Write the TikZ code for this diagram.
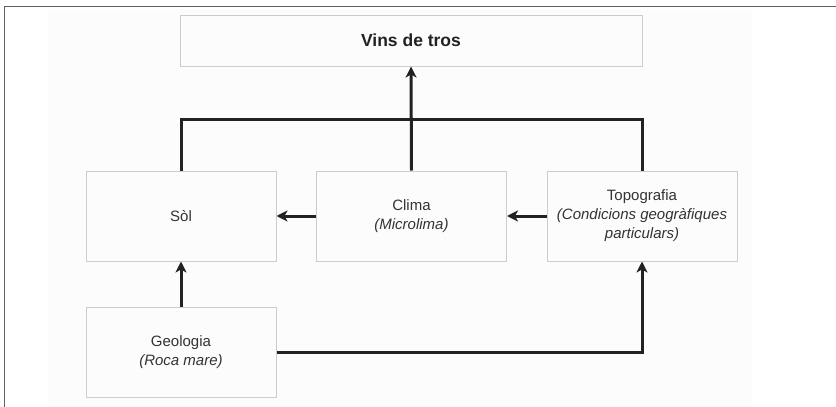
\documentclass[tikz,border=0pt]{standalone}
\usepackage{fontspec}
\setmainfont{Liberation Sans}
\usetikzlibrary{arrows.meta}
\definecolor{boxline}{HTML}{CCCCCC}
\definecolor{boxfill}{HTML}{FCFCFC}
\definecolor{txt}{HTML}{333333}
\definecolor{conn}{HTML}{222222}
\definecolor{framec}{HTML}{606060}
\tikzset{
  box/.style={draw=boxline, line width=1pt, fill=boxfill, minimum width=190pt, minimum height=90pt,
    align=center, text=txt, font=\fontsize{15}{19}\selectfont, inner sep=0pt},
  conline/.style={draw=conn, line width=3pt},
  arr/.style={conline, -{Stealth[length=11pt,width=11pt,inset=3pt]}},
}
\begin{document}
\begin{tikzpicture}[x=1pt,y=-1pt]
\useasboundingbox (0,0) rectangle (836,407);
\fill[white] (0,0) rectangle (836,407);
\fill[boxfill] (48,9) rectangle (752,407);
\draw[framec, line width=1.3pt] (4.5,407) -- (4.5,6.5) -- (836,6.5);

\node[box, minimum width=462pt, minimum height=51pt, text=conn,
      font=\fontsize{17.5}{19}\selectfont\bfseries] (vins) at (411,40.5) {Vins de tros};
\node[box] (sol) at (181,216) {Sòl};
\node[box] (clima) at (411.5,216) {Clima\\\textit{(Microlima)}};
\node[box] (topo) at (642,216) {Topografia\\\textit{(Condicions geogràfiques}\\\textit{particulars)}};
\node[box] (geo) at (181,352) {Geologia\\\textit{(Roca mare)}};

\coordinate (bus) at (411.5,119);
\draw[conline] (sol.north) |- (bus) -| (topo.north);
\draw[arr] (clima.north) -- (vins.south);
\draw[arr] (clima.west) -- (sol.east);
\draw[arr] (topo.west) -- (clima.east);
\draw[arr] (geo.north) -- (sol.south);
\draw[arr] (geo.east) -| (topo.south);
\end{tikzpicture}
\end{document}
